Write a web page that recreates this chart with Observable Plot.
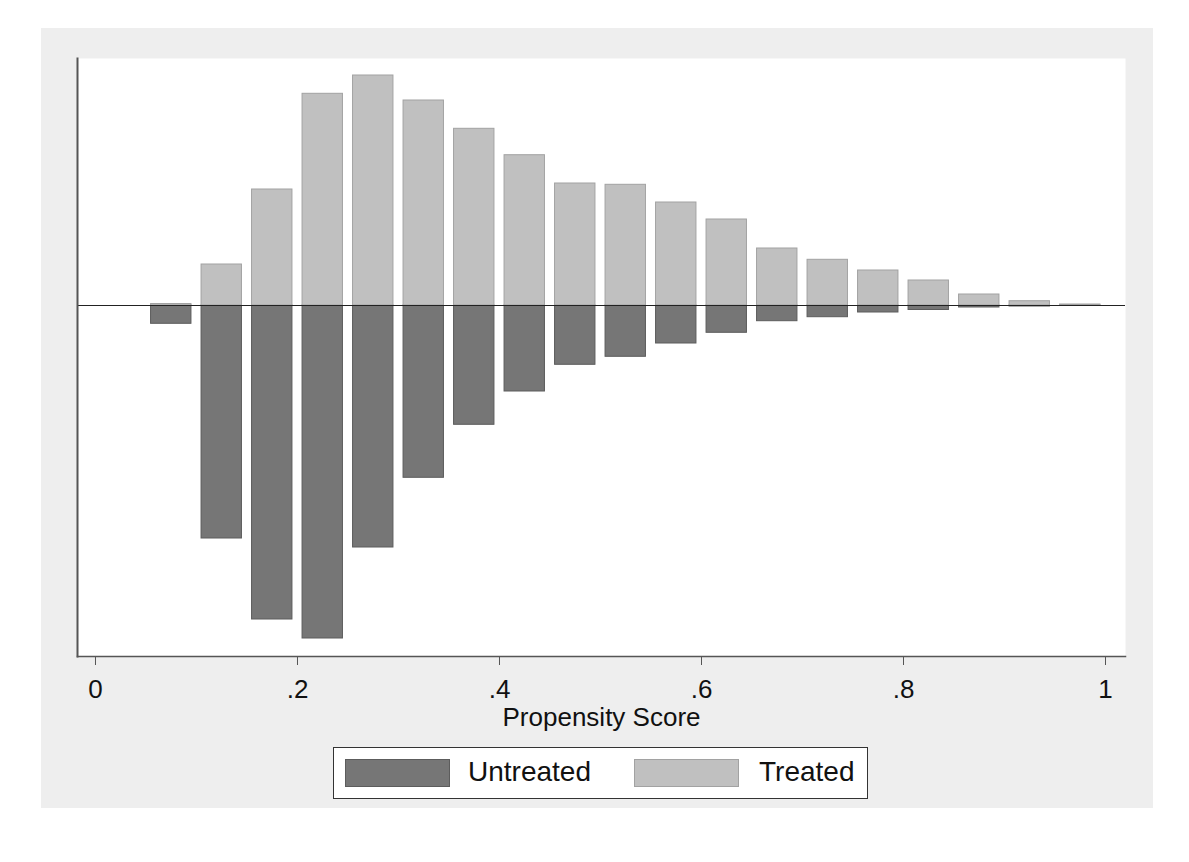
<!DOCTYPE html>
<html>
<head>
<meta charset="utf-8">
<script src="https://cdn.jsdelivr.net/npm/d3@7"></script>
<script src="https://cdn.jsdelivr.net/npm/@observablehq/plot@0.6"></script>
<style>
  html, body { margin: 0; padding: 0; background: #ffffff; }
  body { width: 1189px; height: 862px; position: relative; font-family: "Liberation Sans", Arial, sans-serif; }
  #panel { position: absolute; left: 41px; top: 28px; width: 1112px; height: 780px; background: #eeeeee; }
  #chart { position: absolute; left: 0; top: 0; }
  #legend { position: absolute; left: 292px; top: 719px; width: 533px; height: 50px; background: #ffffff; border: 1px solid #333333; }
  .sw { position: absolute; top: 11px; width: 103px; height: 26px; }
  .lt { position: absolute; top: 8px; font-size: 28px; line-height: 32px; color: #111111; }
</style>
</head>
<body>
<div id="panel">
  <div id="chart"></div>
  <div id="legend">
    <div class="sw" style="left:11px;background:#767676;border:1px solid #5c5c5c;"></div>
    <div class="lt" style="left:134px;">Untreated</div>
    <div class="sw" style="left:300px;background:#c0c0c0;border:1px solid #a2a2a2;"></div>
    <div class="lt" style="left:425px;">Treated</div>
  </div>
</div>
<script>
// Bin centres of the propensity-score histogram
const binCenters = [0.075, 0.125, 0.175, 0.225, 0.275, 0.325, 0.375, 0.425, 0.475, 0.525,
                    0.575, 0.625, 0.675, 0.725, 0.775, 0.825, 0.875, 0.925, 0.975];
// Bar heights (arbitrary density units)
const treated   = [1.5, 41, 116, 211.7, 230, 205, 176.7, 150.3, 122, 120.7,
                   103, 86, 57, 45.7, 35, 25, 11, 4.3, 1];
const untreated = [18.3, 233, 314, 333, 242, 172.3, 119.3, 86, 59.3, 51.3,
                   38, 27.3, 15.7, 11.7, 7, 4.5, 2, 1, 0.5];
const xTicks = [0, 0.2, 0.4, 0.6, 0.8, 1];
const groups = ["Untreated", "Treated"];

const halfWidth = 0.02;
const treatedData = binCenters.map((x, i) => ({x, v: treated[i], g: groups[1]}));
const untreatedData = binCenters.map((x, i) => ({x, v: -untreated[i], g: groups[0]}));

const fmt = d => d === 0 ? "0" : d === 1 ? "1" : String(d).replace(/^0\./, ".");

const chart = Plot.plot({
  width: 1112,
  height: 712,
  marginLeft: 36,
  marginRight: 28,
  marginTop: 30,
  marginBottom: 84,
  style: {background: "transparent", fontFamily: "'Liberation Sans', Arial, sans-serif", color: "#111"},
  x: {domain: [-0.01782, 1.0198]},
  y: {domain: [-351, 247], axis: null},
  marks: [
    Plot.frame({fill: "#ffffff", stroke: null}),
    Plot.rectY(untreatedData, {x1: d => d.x - halfWidth, x2: d => d.x + halfWidth, y1: 0, y2: "v",
      fill: "#767676", stroke: "#5c5c5c", strokeWidth: 1}),
    Plot.rectY(treatedData, {x1: d => d.x - halfWidth, x2: d => d.x + halfWidth, y1: 0, y2: "v",
      fill: "#c0c0c0", stroke: "#a2a2a2", strokeWidth: 1}),
    Plot.ruleY([0], {stroke: "#222", strokeWidth: 1.2}),
    Plot.frame({anchor: "left", stroke: "#555", strokeWidth: 2}),
    Plot.frame({anchor: "bottom", stroke: "#555", strokeWidth: 1.5}),
    Plot.axisX({
      ticks: xTicks, tickFormat: fmt, tickSize: 9, tickPadding: 14,
      fontSize: 26, stroke: "#555", fill: "#111",
      label: "Propensity Score", labelAnchor: "center", labelOffset: 69, labelArrow: "none"
    })
  ]
});
document.getElementById("chart").appendChild(chart);
</script>
</body>
</html>
